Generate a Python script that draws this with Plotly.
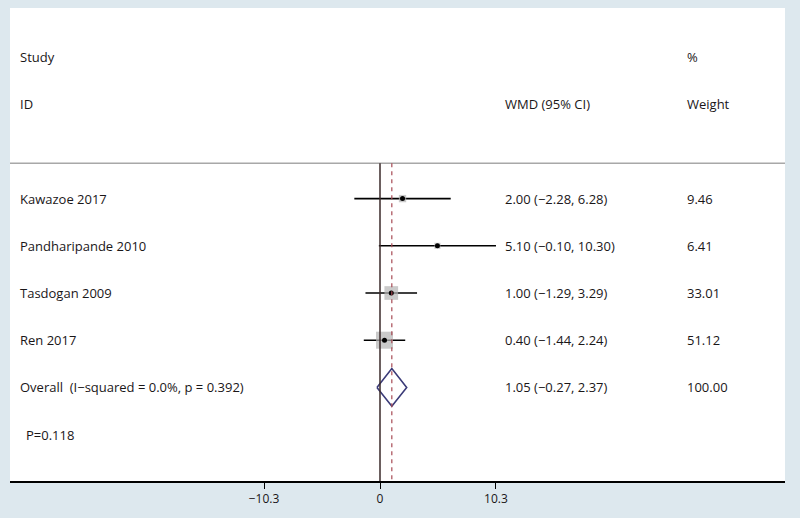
import plotly.graph_objects as go

studies = ["Kawazoe 2017", "Pandharipande 2010", "Tasdogan 2009", "Ren 2017"]
wmd = [2.00, 5.10, 1.00, 0.40]
lo = [-2.28, -0.10, -1.29, -1.44]
hi = [6.28, 10.30, 3.29, 2.24]
weights = [9.46, 6.41, 33.01, 51.12]
overall_label = "Overall  (I\u2212squared = 0.0%, p = 0.392)"
overall = 1.05
overall_lo = -0.27
overall_hi = 2.37
p_text = "P=0.118"
tick_vals = [-10.3, 0, 10.3]
tick_text = ["\u221210.3", "0", "10.3"]

rows = [3, 4, 5, 6]
overall_row = 7
p_row = 8

FONT = "Open Sans"
FS = 13
TXT = "#1a1618"
W, H = 800, 518
L, R, T, B = 10, 15, 8, 37
x0px = 380
pxu = 11.26
plot_w = W - L - R
xmin = -(x0px - L) / pxu
xmax = (W - R - x0px) / pxu
row_px = 47.2
row0_px = 57
ymin = (T - row0_px) / row_px
ymax = (H - B - row0_px) / row_px

def fmt(v):
    s = f"{v:.2f}"
    return s.replace("-", "\u2212")

fig = go.Figure()

# CI lines
for i in range(len(studies)):
    fig.add_trace(go.Scatter(x=[lo[i], hi[i]], y=[rows[i], rows[i]], mode="lines",
                             line=dict(color="black", width=1.6), hoverinfo="skip", showlegend=False))
# weight boxes
fig.add_trace(go.Scatter(x=wmd, y=rows, mode="markers",
                         marker=dict(symbol="square", color="#b4b4b4",
                                     size=[2.38 * (w ** 0.5) for w in weights], line=dict(width=0)),
                         hoverinfo="skip", showlegend=False))
# point estimates
fig.add_trace(go.Scatter(x=wmd, y=rows, mode="markers",
                         marker=dict(symbol="circle", color="black", size=5),
                         hoverinfo="skip", showlegend=False))
# diamond
fig.add_trace(go.Scatter(x=[overall_lo, overall, overall_hi, overall, overall_lo],
                         y=[overall_row, overall_row - 0.4, overall_row, overall_row + 0.4, overall_row],
                         mode="lines", line=dict(color="#3b3b78", width=1.6),
                         hoverinfo="skip", showlegend=False))

shapes = [
    dict(type="line", xref="paper", yref="y", x0=0, x1=1, y0=2.25, y1=2.25,
         line=dict(color="#a8a8a8", width=1.5)),
    dict(type="line", xref="x", yref="y", x0=0, x1=0, y0=2.25, y1=ymax,
         line=dict(color="#3a2a2a", width=1.5)),
    dict(type="line", xref="x", yref="y", x0=overall, x1=overall, y0=2.25, y1=ymax,
         line=dict(color="#a84a55", width=1.2, dash="4px,4px")),
]

ann = []
def txt(xp, y, s):
    ann.append(dict(x=(xp - L) / plot_w, y=y, xref="paper", yref="y", text=s, showarrow=False,
                    xanchor="left", yanchor="middle", xshift=-2,
                    font=dict(family=FONT, size=FS, color=TXT)))

txt(20, 0, "Study")
txt(20, 1, "ID")
txt(505, 1, "WMD (95% CI)")
txt(687, 0, "%")
txt(687, 1, "Weight")
for i in range(len(studies)):
    txt(20, rows[i], studies[i])
    txt(505, rows[i], f"{fmt(wmd[i])} ({fmt(lo[i])}, {fmt(hi[i])})")
    txt(687, rows[i], f"{weights[i]:.2f}")
txt(20, overall_row, overall_label)
txt(505, overall_row, f"{fmt(overall)} ({fmt(overall_lo)}, {fmt(overall_hi)})")
txt(687, overall_row, f"{sum(weights):.2f}")
txt(26, p_row, p_text)

fig.update_layout(
    width=W, height=H,
    margin=dict(l=L, r=R, t=T, b=B),
    paper_bgcolor="#dde8ee",
    plot_bgcolor="white",
    shapes=shapes,
    annotations=ann,
    xaxis=dict(range=[xmin, xmax], showgrid=False, zeroline=False, showline=True,
               linecolor="black", linewidth=1.5, ticks="outside", ticklen=6, tickwidth=1,
               tickcolor="black", tickvals=tick_vals, ticktext=tick_text,
               tickfont=dict(family=FONT, size=12, color=TXT), fixedrange=True),
    yaxis=dict(range=[ymax, ymin], visible=False, fixedrange=True),
    showlegend=False,
)
fig.write_html("out.html", config={"displayModeBar": False},
               post_script="document.body.style.margin='0';document.body.style.background='#dde8ee';")
